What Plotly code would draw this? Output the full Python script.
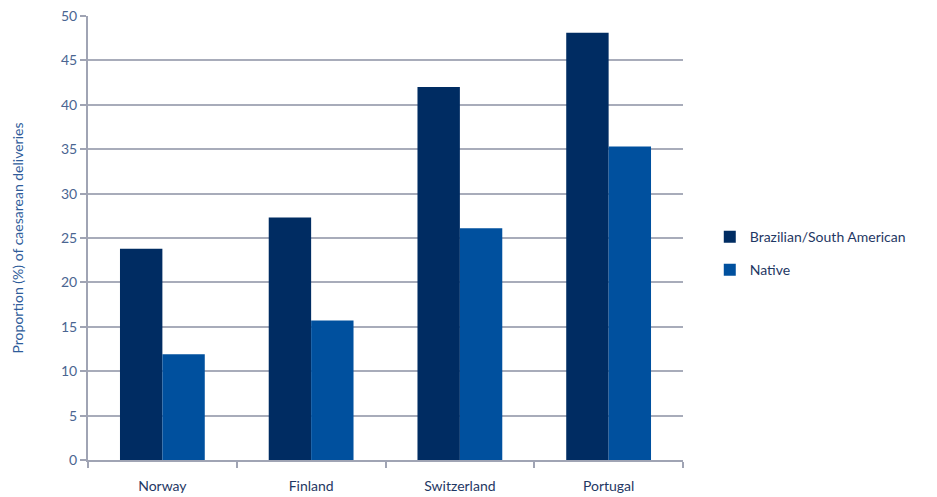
import plotly.graph_objects as go

countries = ["Norway", "Finland", "Switzerland", "Portugal"]
brazilian = [23.8, 27.3, 42.0, 48.1]
native = [11.9, 15.7, 26.1, 35.3]
y_ticks = [0, 5, 10, 15, 20, 25, 30, 35, 40, 45, 50]

fig = go.Figure()
fig.add_trace(go.Bar(name="Brazilian/South American", x=countries, y=brazilian,
                     legendgroup="a",
                     marker=dict(color="#002C62", line=dict(width=0))))
fig.add_trace(go.Bar(name="Native", x=countries, y=native,
                     legendgroup="b",
                     marker=dict(color="#00509E", line=dict(width=0))))

fig.update_layout(
    width=937, height=497,
    margin=dict(l=88, r=254, t=16, b=37),
    paper_bgcolor="white", plot_bgcolor="white",
    barmode="group", bargap=0.43, bargroupgap=0,
    font=dict(family="Lato, Open Sans, sans-serif", size=14, color="#1F3864"),
    legend=dict(x=1.045, y=0.465, xanchor="left", yanchor="middle",
                font=dict(size=14, color="#1F3864"), itemwidth=30,
                tracegroupgap=12),
    xaxis=dict(showgrid=False, showline=True, linecolor="#A0A4B4", linewidth=2,
               ticks="outside", tickson="boundaries", ticklen=6, tickcolor="#A0A4B4",
               tickwidth=2, ticklabelstandoff=12, automargin=False,
               tickfont=dict(size=14, color="#1F3864")),
    yaxis=dict(range=[0, 50], tickvals=y_ticks, showgrid=True, gridcolor="#A8ACBA",
               gridwidth=2, showline=True, linecolor="#A0A4B4", linewidth=2,
               ticks="outside", ticklen=6, tickcolor="#A0A4B4", tickwidth=2,
               tickfont=dict(size=14, color="#4A6591"), zeroline=False,
               automargin=False,
               title=dict(text="Proportion (%) of caesarean deliveries",
                          font=dict(size=14, color="#2E5C9A"), standoff=34)),
)

fig.write_html("out.html")
